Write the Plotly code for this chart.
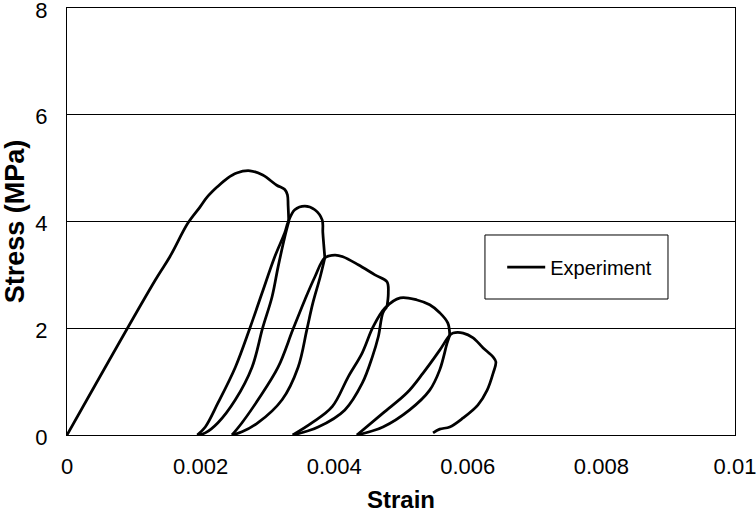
import plotly.graph_objects as go

# Cyclic compression test: stress-strain path, one list pair per branch
envelope_strain = [0, 0.00132, 0.00154, 0.00181, 0.00199, 0.00210, 0.00225, 0.00240, 0.00254, 0.00274,
                   0.00293, 0.00314, 0.00326, 0.00330, 0.00331, 0.00332]
envelope_stress = [0, 2.90, 3.34, 3.97, 4.27, 4.46, 4.65, 4.81, 4.91, 4.95,
                   4.87, 4.68, 4.60, 4.50, 4.30, 4.00]

unload1_strain = [0.00332, 0.00326, 0.00316, 0.00307, 0.00293, 0.00277, 0.00252, 0.00226, 0.00207, 0.00195]
unload1_stress = [4.00, 3.71, 3.15, 2.59, 2.01, 1.27, 0.66, 0.23, 0.04, 0]

reload1_strain = [0.00195, 0.00207, 0.00226, 0.00252, 0.00274, 0.00292, 0.00311, 0.00326, 0.00331, 0.00341,
                  0.00356, 0.00371, 0.00382, 0.00383, 0.00386]
reload1_stress = [0, 0.15, 0.60, 1.27, 2.01, 2.66, 3.34, 3.79, 3.99, 4.22,
                  4.29, 4.22, 4.03, 3.79, 3.32]

unload2_strain = [0.00386, 0.00379, 0.00368, 0.00359, 0.00346, 0.00322, 0.00286, 0.00262, 0.00247]
unload2_stress = [3.32, 2.96, 2.47, 1.97, 1.27, 0.66, 0.23, 0.06, 0]

reload2_strain = [0.00247, 0.00262, 0.00286, 0.00316, 0.00338, 0.00356, 0.00371, 0.00386, 0.00401, 0.00413,
                  0.00436, 0.00461, 0.00479, 0.00481, 0.00479]
reload2_stress = [0, 0.23, 0.66, 1.27, 1.97, 2.53, 2.96, 3.32, 3.37, 3.34,
                  3.19, 3.00, 2.87, 2.66, 2.40]

unload3_strain = [0.00479, 0.00473, 0.00466, 0.00457, 0.00442, 0.00416, 0.00376, 0.00338]
unload3_stress = [2.40, 2.29, 1.84, 1.46, 0.97, 0.47, 0.15, 0]

reload3_strain = [0.00338, 0.00367, 0.00397, 0.00421, 0.00442, 0.00458, 0.00476, 0.00499, 0.00524, 0.00543,
                  0.00558, 0.00570, 0.00573]
reload3_stress = [0, 0.23, 0.53, 1.09, 1.54, 2.02, 2.38, 2.57, 2.53, 2.44,
                  2.29, 2.10, 1.87]

unload4_strain = [0.00573, 0.00569, 0.00558, 0.00543, 0.00513, 0.00473, 0.00434]
unload4_stress = [1.87, 1.72, 1.22, 0.84, 0.47, 0.15, 0]

reload4_strain = [0.00434, 0.00473, 0.00509, 0.00533, 0.00558, 0.00573, 0.00578, 0.00593, 0.00608, 0.00623,
                  0.00638, 0.00642, 0.00638, 0.00629, 0.00615, 0.00593, 0.00573, 0.00558, 0.00548]
reload4_stress = [0, 0.41, 0.79, 1.16, 1.59, 1.87, 1.91, 1.91, 1.82, 1.63,
                  1.46, 1.37, 1.16, 0.84, 0.56, 0.32, 0.15, 0.11, 0.04]

x_ticks = [0, 0.002, 0.004, 0.006, 0.008, 0.01]
x_tick_labels = ["0", "0.002", "0.004", "0.006", "0.008", "0.01"]
y_ticks = [0, 2, 4, 6, 8]

branches = [
    (envelope_strain, envelope_stress),
    (unload1_strain, unload1_stress), (reload1_strain, reload1_stress),
    (unload2_strain, unload2_stress), (reload2_strain, reload2_stress),
    (unload3_strain, unload3_stress), (reload3_strain, reload3_stress),
    (unload4_strain, unload4_stress), (reload4_strain, reload4_stress),
]

FONT = "Arial, Liberation Sans, sans-serif"

fig = go.Figure()
for i, (bx, by) in enumerate(branches):
    fig.add_trace(go.Scatter(
        x=bx, y=by, mode="lines", name="Experiment",
        legendgroup="exp", showlegend=(i == 0),
        line=dict(color="black", width=2.75, shape="spline", smoothing=1.0),
    ))

# Legend frame
fig.add_shape(type="rect", xref="paper", yref="paper",
              x0=0.6257, x1=0.8997, y0=0.3185, y1=0.4684,
              line=dict(color="black", width=1), fillcolor="white", layer="below")

fig.update_layout(
    width=756, height=516,
    margin=dict(l=67, r=21, t=8, b=81),
    paper_bgcolor="white", plot_bgcolor="white",
    font=dict(family=FONT, color="black", size=22),
    showlegend=True,
    legend=dict(x=0.6515, y=0.393, xanchor="left", yanchor="middle",
                bgcolor="rgba(0,0,0,0)", borderwidth=0, itemwidth=38,
                font=dict(size=20, family=FONT, color="black")),
    xaxis=dict(range=[0, 0.01], tickvals=x_ticks, ticktext=x_tick_labels,
               showgrid=False, zeroline=False, showline=True, mirror=True,
               linecolor="black", linewidth=1, ticks="", automargin=False,
               tickfont=dict(size=22), ticklabelstandoff=12, ticklabeloverflow="allow",
               title=dict(text="<b>Strain</b>", font=dict(size=24), standoff=12)),
    yaxis=dict(range=[0, 8], tickvals=y_ticks,
               showgrid=True, gridcolor="black", gridwidth=1,
               zeroline=False, showline=True, mirror=True,
               linecolor="black", linewidth=1, ticks="", automargin=False,
               tickfont=dict(size=22), ticklabelstandoff=14, ticklabelshift=2,
               ticklabeloverflow="allow",
               title=dict(text="<b>Stress (MPa)</b>", font=dict(size=27), standoff=4)),
)

fig.write_html("out.html")
